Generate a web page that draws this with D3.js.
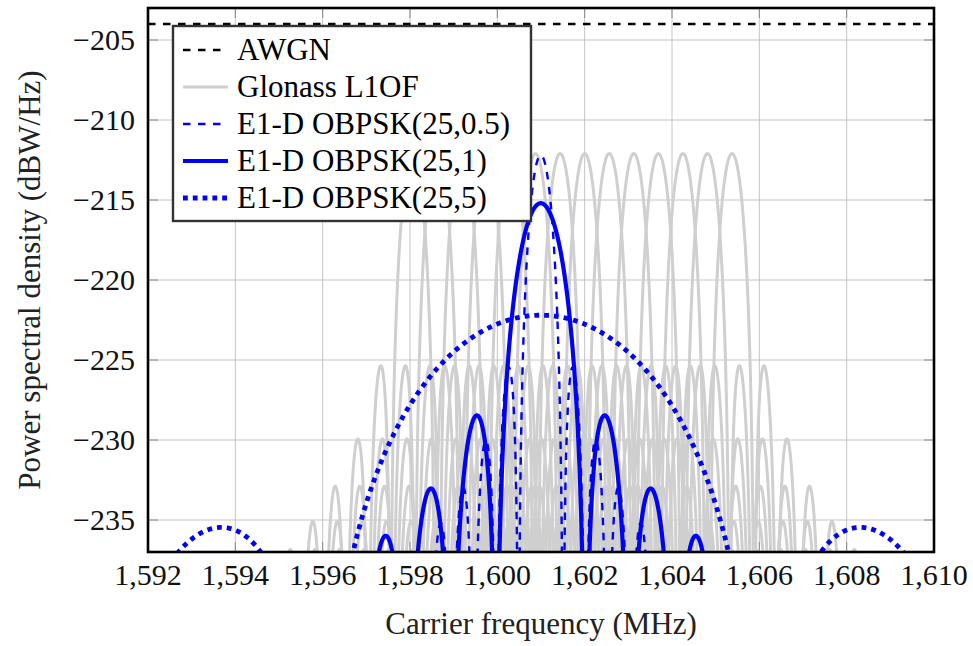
<!DOCTYPE html>
<html>
<head>
<meta charset="utf-8">
<script src="https://cdn.jsdelivr.net/npm/d3@7"></script>
<style>
  html, body { margin: 0; padding: 0; background: #fff; }
  svg { display: block; }
  svg text { font-family: "Liberation Serif", "Times New Roman", serif; }
</style>
</head>
<body>
<svg id="chart" width="973" height="646"></svg>
<script>
// Axis ticks
const xTicks = [1592, 1594, 1596, 1598, 1600, 1602, 1604, 1606, 1608, 1610];
const xTickLabels = ["1,592", "1,594", "1,596", "1,598", "1,600", "1,602", "1,604", "1,606", "1,608", "1,610"];
const yTicks = [-235, -230, -225, -220, -215, -210, -205];
const yTickLabels = ["\u2212235", "\u2212230", "\u2212225", "\u2212220", "\u2212215", "\u2212210", "\u2212205"];

// Noise floor (dBW/Hz)
const awgnLevel = -204;

// Glonass L1OF FDMA carriers (MHz), BPSK(0.5) chip rate and main-lobe peak
const glonassCarriers = [1598.0625, 1598.625, 1599.1875, 1599.75, 1600.3125, 1600.875, 1601.4375,
                         1602.0, 1602.5625, 1603.125, 1603.6875, 1604.25, 1604.8125, 1605.375];
const glonassChipRate = 0.511;
const glonassPeak = -212.1;

// E1-D offset BPSK(25,m) signals, all centred on 1575.42 + 25 x 1.023 MHz
const e1dNames = ["E1-D OBPSK(25,0.5)", "E1-D OBPSK(25,1)", "E1-D OBPSK(25,5)"];
const e1dCenter = 1600.995;
const e1dChipRates = [0.5115, 1.023, 5.115];
const e1dPeaks = [-212.2, -215.2, -222.2];

const FONT = "'Liberation Serif', 'Times New Roman', serif";
const width = 973, height = 646;
const margin = { left: 148, right: 39, top: 8, bottom: 94 };
const x = d3.scaleLinear().domain([1592, 1610]).range([margin.left, width - margin.right]);
const y = d3.scaleLinear().domain([-237, -203]).range([height - margin.bottom, margin.top]);

const svg = d3.select("#chart");
const plotW = x.range()[1] - x.range()[0];
const plotH = y.range()[0] - y.range()[1];

svg.append("defs").append("clipPath").attr("id", "plotClip")
  .append("rect").attr("x", x.range()[0]).attr("y", y.range()[1])
  .attr("width", plotW).attr("height", plotH);

// Grid
const grid = svg.append("g").attr("stroke", "#c4c4c4").attr("stroke-width", 1);
grid.selectAll(".gx").data(xTicks.slice(1, -1)).join("line")
  .attr("x1", d => x(d)).attr("x2", d => x(d))
  .attr("y1", y.range()[1]).attr("y2", y.range()[0]);
grid.selectAll(".gy").data(yTicks).join("line")
  .attr("y1", d => y(d)).attr("y2", d => y(d))
  .attr("x1", x.range()[0]).attr("x2", x.range()[1]);

// Inward tick marks on all four sides
const tickLen = 10;
const ticks = svg.append("g").attr("stroke", "#8a8a8a").attr("stroke-width", 1);
xTicks.slice(1, -1).forEach(v => {
  ticks.append("line").attr("x1", x(v)).attr("x2", x(v)).attr("y1", y.range()[0]).attr("y2", y.range()[0] - tickLen);
  ticks.append("line").attr("x1", x(v)).attr("x2", x(v)).attr("y1", y.range()[1]).attr("y2", y.range()[1] + tickLen);
});
yTicks.forEach(v => {
  ticks.append("line").attr("y1", y(v)).attr("y2", y(v)).attr("x1", x.range()[0]).attr("x2", x.range()[0] + tickLen);
  ticks.append("line").attr("y1", y(v)).attr("y2", y(v)).attr("x1", x.range()[1]).attr("x2", x.range()[1] - tickLen);
});

// BPSK power spectral density in dB: peak + 10 log10(sinc^2((f - fc)/Rc))
function bpskDb(f, fc, rc, peak) {
  const u = Math.PI * (f - fc) / rc;
  const s = Math.abs(u) < 1e-12 ? 1 : Math.sin(u) / u;
  const v = peak + 10 * Math.log10(s * s + 1e-40);
  return Math.max(v, -400);
}
const freqs = d3.range(1592, 1610.0001, 0.002);
const line = d3.line().x(d => x(d[0])).y(d => y(d[1]));

const curves = svg.append("g").attr("clip-path", "url(#plotClip)").attr("fill", "none");

// AWGN floor
curves.append("path")
  .attr("d", line([[1592, awgnLevel], [1610, awgnLevel]]))
  .attr("stroke", "#000").attr("stroke-width", 2.4).attr("stroke-dasharray", "7.5,7.5");

// Glonass channels
glonassCarriers.forEach(fc => {
  curves.append("path")
    .attr("d", line(freqs.map(f => [f, bpskDb(f, fc, glonassChipRate, glonassPeak)])))
    .attr("stroke", "#cfcfcf").attr("stroke-width", 3).attr("stroke-linejoin", "round");
});

// E1-D signals
const e1dStyles = [
  { w: 2.4, dash: "7.5,7.5" },
  { w: 4.2, dash: null },
  { w: 4.8, dash: "4.8,5" }
];
e1dChipRates.forEach((rc, i) => {
  const p = curves.append("path")
    .attr("d", line(freqs.map(f => [f, bpskDb(f, e1dCenter, rc, e1dPeaks[i])])))
    .attr("stroke", "#0000ff").attr("stroke-width", e1dStyles[i].w)
    .attr("stroke-linecap", "butt").attr("stroke-linejoin", "round");
  if (e1dStyles[i].dash) p.attr("stroke-dasharray", e1dStyles[i].dash);
});

// Frame
svg.append("rect").attr("x", x.range()[0]).attr("y", y.range()[1])
  .attr("width", plotW).attr("height", plotH)
  .attr("fill", "none").attr("stroke", "#000").attr("stroke-width", 2.6);

// Tick labels
svg.append("g").attr("font-family", FONT).attr("font-size", 30).attr("fill", "#111").attr("text-anchor", "middle")
  .selectAll("text").data(xTicks).join("text")
  .attr("x", d => x(d)).attr("y", 585).text((d, i) => xTickLabels[i]);
svg.append("g").attr("font-family", FONT).attr("font-size", 30).attr("fill", "#111").attr("text-anchor", "end")
  .selectAll("text").data(yTicks).join("text")
  .attr("x", 135).attr("y", d => y(d) + 10)
  .text((d, i) => yTickLabels[i]);

// Axis titles
svg.append("text").attr("font-family", FONT).attr("x", x(1601)).attr("y", 634).attr("text-anchor", "middle")
  .attr("font-size", 31).attr("fill", "#222").text("Carrier frequency (MHz)");
svg.append("text").attr("font-family", FONT)
  .attr("transform", `translate(40,${(y.range()[0] + y.range()[1]) / 2}) rotate(-90)`)
  .attr("text-anchor", "middle").attr("font-size", 31).attr("fill", "#222")
  .text("Power spectral density (dBW/Hz)");

// Legend
const legendItems = [
  { name: "AWGN", color: "#000", w: 2.4, dash: "7.5,7.5" },
  { name: "Glonass L1OF", color: "#cfcfcf", w: 3, dash: null },
  { name: e1dNames[0], color: "#0000ff", w: e1dStyles[0].w, dash: e1dStyles[0].dash },
  { name: e1dNames[1], color: "#0000ff", w: e1dStyles[1].w, dash: null },
  { name: e1dNames[2], color: "#0000ff", w: e1dStyles[2].w, dash: e1dStyles[2].dash }
];
const lg = svg.append("g");
lg.append("rect").attr("x", 173).attr("y", 26).attr("width", 358).attr("height", 195)
  .attr("fill", "#fff").attr("stroke", "#333").attr("stroke-width", 2.4);
legendItems.forEach((it, i) => {
  const cy = 50 + i * 37;
  const l = lg.append("line").attr("x1", 183).attr("x2", 228).attr("y1", cy).attr("y2", cy)
    .attr("stroke", it.color).attr("stroke-width", it.w);
  if (it.dash) l.attr("stroke-dasharray", it.dash);
  lg.append("text").attr("font-family", FONT).attr("x", 237).attr("y", cy + 10)
    .attr("font-size", 31).attr("fill", "#000").text(it.name);
});
</script>
</body>
</html>
